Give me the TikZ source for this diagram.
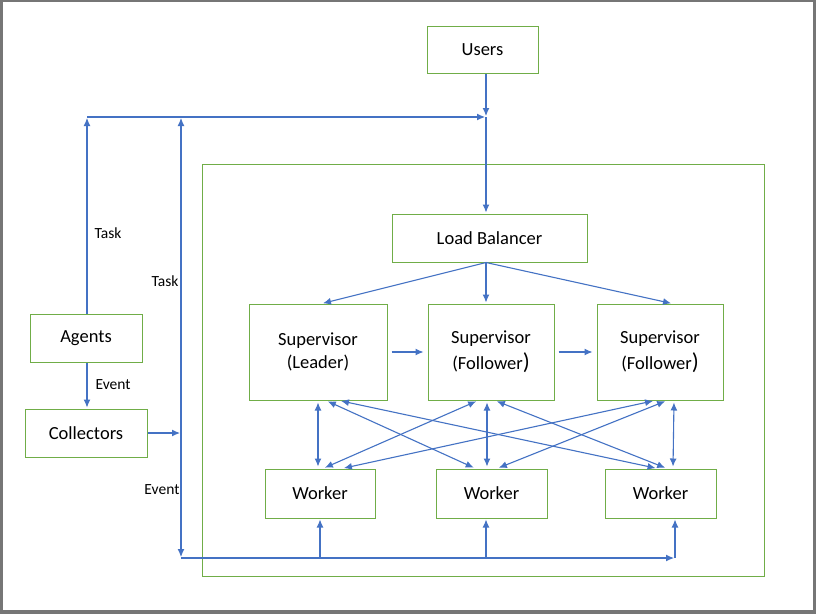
\documentclass[tikz,border=0pt]{standalone}
\usepackage{fontspec}
\setmainfont{Carlito}
\usetikzlibrary{arrows.meta}
\usetikzlibrary{positioning}
\definecolor{boxgreen}{RGB}{112,173,71}
\definecolor{linkblue}{RGB}{68,114,196}
\definecolor{framegray}{RGB}{118,118,118}

\begin{document}
\begin{tikzpicture}[->,>={Latex[length=8pt,width=7pt]},shorten >=1pt,x=1pt,y=-1pt,
                    every edge/.append style={draw=linkblue,line width=1.1pt},
                    every text node part/.style={align=center}]
  \tikzstyle{box}=[draw=boxgreen,line width=1pt,inner sep=0pt,text=black,
                   font=\fontsize{18.5}{23}\selectfont]
  \tikzstyle{lbl}=[text=black,inner sep=1pt,font=\fontsize{15.5}{18}\selectfont]

    % frame of the picture
    \fill[framegray] (0,0) rectangle (816,614);
    \fill[white] (3,2) rectangle (813,610);
    \useasboundingbox (0,0) rectangle (816,614);

    \node[box, minimum width=562, minimum height=412] (cluster)    at (483,370) {};
    \node[box, minimum width=111, minimum height=47]  (users)      at (482.5,49.5) {Users};
    \node[box, minimum width=195, minimum height=48]  (lb)         at (489.5,238) {Load Balancer};
    \node[box, minimum width=138, minimum height=96]  (sup1)       at (318,352) {Supervisor\\(Leader)};
    \node[box, minimum width=126, minimum height=96]  (sup2)       at (491,352) {Supervisor\\[3pt](Follower{\fontsize{23}{23}\selectfont)}};
    \node[box, minimum width=126, minimum height=96]  (sup3)       at (660,352) {Supervisor\\[3pt](Follower{\fontsize{23}{23}\selectfont)}};
    \node[box, minimum width=110, minimum height=49]  (wrk1)       at (320,493.5) {Worker};
    \node[box, minimum width=111, minimum height=49]  (wrk2)       at (491.5,493.5) {Worker};
    \node[box, minimum width=111, minimum height=49]  (wrk3)       at (660.5,493.5) {Worker};
    \node[box, minimum width=112, minimum height=48]  (agents)     at (86,338) {Agents};
    \node[box, minimum width=122, minimum height=48]  (collectors) at (86,433) {Collectors};

    \coordinate (taskL) at (87,117);
    \coordinate (taskR) at (181,117);
    \coordinate (join)  at (486,117);
    \coordinate (evt)   at (181,433);
    \coordinate (busL)  at (181,558);
    \coordinate (busR)  at (675,558);
    \coordinate (bus1)  at (320,558);
    \coordinate (bus2)  at (486,558);

  \path (users.south -| join) edge              (join)
        (join) edge              (lb.north -| join)
        (taskL) edge             (join)
        (agents.north -| taskL) edge  node[lbl, pos=0.41, right=6pt] {Task} (taskL)
        (evt) edge               node[lbl, pos=0.48, left=1pt] {Task} (taskR)
        (agents.south -| taskL) edge  node[lbl, pos=0.49, right=7pt] {Event} (collectors.north -| taskL)
        (collectors) edge        (evt)
        (evt) edge               node[lbl, pos=0.45, left=0pt] {Event} (busL)
        (busL) edge              (busR)
        (busR) edge              (wrk3.south -| busR)
        (bus1) edge              (wrk1.south -| bus1)
        (bus2) edge              (wrk2.south -| bus2);

  \path (lb.south -| join) edge  ([xshift=4]sup1.north)
            edge                 (sup2.north -| join)
            edge                 ([xshift=12]sup3.north)
        (sup1) edge [shorten <=4pt, shorten >=4pt] (sup2)
        (sup2) edge [shorten <=4pt, shorten >=4pt] (sup3);

  \path (sup1.south) edge [<->, shorten <=2pt, shorten >=2pt]              ([xshift=-2]wrk1.north)
        ([xshift=8]sup1.south) edge [<->, shorten <=2pt, shorten >=2pt]   ([xshift=-16]wrk2.north)
        ([xshift=21]sup1.south) edge [<->, shorten <=2pt, shorten >=2pt]  ([xshift=-3]wrk3.north)
        ([xshift=-13]sup2.south) edge [<->, shorten <=2pt, shorten >=2pt] ([xshift=3]wrk1.north)
        ([xshift=-4]sup2.south) edge [<->, shorten <=2pt, shorten >=2pt]  ([xshift=-4.5]wrk2.north)
        ([xshift=4]sup2.south) edge [<->, shorten <=2pt, shorten >=2pt]   ([xshift=6.5]wrk3.north)
        ([xshift=-5]sup3.south) edge [<->, shorten <=2pt, shorten >=2pt]  ([xshift=22]wrk1.north)
        ([xshift=7]sup3.south) edge [<->, shorten <=2pt, shorten >=2pt]   ([xshift=5.5]wrk2.north)
        ([xshift=14]sup3.south) edge [<->, shorten <=2pt, shorten >=2pt]  ([xshift=12.5]wrk3.north);

\end{tikzpicture}
\end{document}
